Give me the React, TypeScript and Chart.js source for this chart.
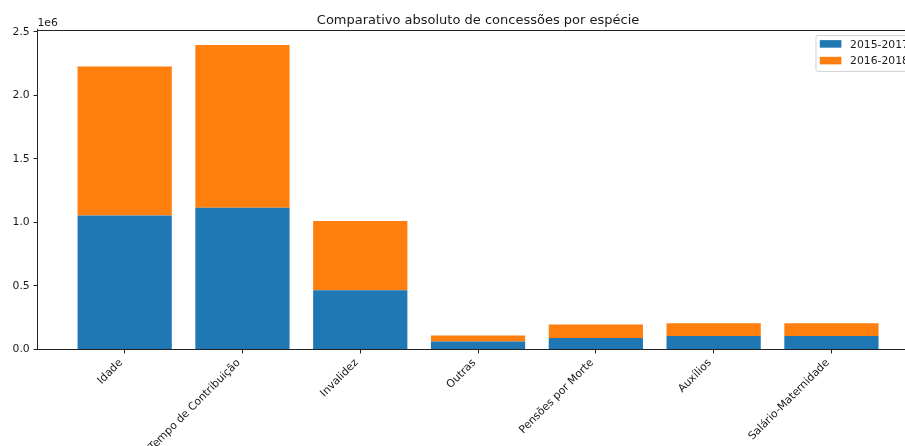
import { useEffect, useRef } from "react";
import { Chart, registerables } from "chart.js";

Chart.register(...registerables);

// Concessões por espécie, counts per period
const categories = [
  "Idade",
  "Tempo de Contribuição",
  "Invalidez",
  "Outras",
  "Pensões por Morte",
  "Auxílios",
  "Salário-Maternidade",
];
const seriesLabels = ["2015-2017", "2016-2018"];
const values2015to2017 = [1055000, 1115000, 466000, 63000, 91000, 107000, 107000];
const values2016to2018 = [1172000, 1281000, 544000, 47000, 105000, 99000, 99000];
const yTickValues = [0, 0.5, 1.0, 1.5, 2.0, 2.5]; // in units of 1e6
const chartTitle = "Comparativo absoluto de concessões por espécie";
const offsetLabel = "1e6";

const seriesColors = ["#1f77b4", "#ff7f0e"];
const FONT = '"DejaVu Sans", sans-serif';
const TEXT = "#1a1a1a";
const SPINE = "#222222";
const FS = 10.8;
const TICK_LEN = 4;
const TICK_PAD = 3.8;

const W = 930;
const H = 446;
const AREA_LEFT = 37.5;
const AREA_RIGHT = 918.6;
const AREA_TOP = 29.7;
const AREA_BOTTOM = 349.5;

const BAR_WIDTH = 0.8;
const totals = categories.map((_, i) => values2015to2017[i] + values2016to2018[i]);
const yMax = Math.max(...totals) * 1.05;
const xSpan = categories.length - 1 + BAR_WIDTH;
const xMin = -BAR_WIDTH / 2 - xSpan * 0.05;
const xMax = categories.length - 1 + BAR_WIDTH / 2 + xSpan * 0.05;

const decorPlugin = {
  id: "decor",
  afterDraw(chart: any) {
    const { ctx, chartArea: a } = chart;
    const xScale = chart.scales.x;
    ctx.save();

    // top spine
    ctx.strokeStyle = SPINE;
    ctx.lineWidth = 1;
    ctx.beginPath();
    const ty = Math.round(a.top) + 0.5;
    ctx.moveTo(a.left, ty);
    ctx.lineTo(a.right, ty);
    ctx.stroke();
    // right spine
    const rx = Math.round(a.right) - 0.5;
    ctx.beginPath();
    ctx.moveTo(rx, a.top);
    ctx.lineTo(rx, a.bottom);
    ctx.stroke();

    // category labels, rotated 45° with their box's top-right corner at the tick
    ctx.font = `${FS}px ${FONT}`;
    ctx.fillStyle = TEXT;
    ctx.textAlign = "right";
    ctx.textBaseline = "alphabetic";
    const asc = 0.76 * FS;
    const desc = 0.236 * FS;
    const r = Math.SQRT1_2;
    const yTop = a.bottom + TICK_LEN + TICK_PAD;
    xScale.ticks.forEach((t: any) => {
      const label = categories[Math.round(t.value)];
      if (!label) return;
      const px = xScale.getPixelForValue(t.value) - desc * r;
      const py = yTop + asc * r;
      ctx.save();
      ctx.translate(px, py);
      ctx.rotate(-Math.PI / 4);
      ctx.fillText(label, 0, 0);
      ctx.restore();
    });

    // title
    ctx.fillStyle = TEXT;
    ctx.font = `13px ${FONT}`;
    ctx.textAlign = "center";
    ctx.textBaseline = "alphabetic";
    ctx.fillText(chartTitle, (a.left + a.right) / 2, 23.5);

    // axis offset text
    ctx.font = `${FS}px ${FONT}`;
    ctx.textAlign = "left";
    ctx.fillText(offsetLabel, a.left, 26);

    // legend
    const pad = 0.4 * FS;
    const handleW = 2.0 * FS;
    const handleH = 0.7 * FS;
    const textPad = 0.8 * FS;
    const textW = Math.max(...seriesLabels.map((s) => ctx.measureText(s).width));
    const boxW = pad + handleW + textPad + textW + pad;
    const boxRight = a.right - 0.5 * FS;
    const boxLeft = boxRight - boxW;
    const boxTop = a.top + 0.5 * FS;
    const rowGap = 16.7;
    const firstRow = boxTop + 8.8;
    const boxBottom = firstRow + rowGap * (seriesLabels.length - 1) + 10.3;

    ctx.beginPath();
    ctx.roundRect(boxLeft + 0.5, boxTop + 0.5, boxW, boxBottom - boxTop, 2);
    ctx.fillStyle = "rgba(255,255,255,0.8)";
    ctx.fill();
    ctx.strokeStyle = "#d0d0d0";
    ctx.stroke();

    seriesLabels.forEach((label, i) => {
      const cy = firstRow + i * rowGap;
      ctx.fillStyle = seriesColors[i];
      ctx.fillRect(boxLeft + pad, cy - handleH / 2, handleW, handleH);
      ctx.fillStyle = TEXT;
      ctx.textAlign = "left";
      ctx.fillText(label, boxLeft + pad + handleW + textPad, cy + 0.36 * FS);
    });

    ctx.restore();
  },
};

export default function App() {
  const canvasRef = useRef<HTMLCanvasElement | null>(null);

  useEffect(() => {
    const canvas = canvasRef.current;
    if (!canvas) return;

    const chart = new Chart(canvas, {
      type: "bar",
      data: {
        datasets: [values2015to2017, values2016to2018].map((vals, s) => ({
          label: seriesLabels[s],
          data: vals.map((v, i) => ({ x: i, y: v })),
          backgroundColor: seriesColors[s],
          borderWidth: 0,
          barPercentage: BAR_WIDTH,
          categoryPercentage: 1.0,
        })),
      },
      options: {
        responsive: false,
        animation: false,
        devicePixelRatio: 1,
        layout: {
          padding: { top: AREA_TOP, right: W - AREA_RIGHT, left: 0, bottom: 0 },
        },
        plugins: {
          legend: { display: false },
          title: { display: false },
          tooltip: { enabled: false },
        },
        scales: {
          x: {
            type: "linear",
            stacked: true,
            offset: false,
            min: xMin,
            max: xMax,
            afterBuildTicks: (scale: any) => {
              scale.ticks = categories.map((_, i) => ({ value: i }));
            },
            afterFit: (scale: any) => {
              scale.height = H - AREA_BOTTOM;
            },
            ticks: {
              display: false,
              autoSkip: false,
            },
            grid: {
              display: true,
              offset: false,
              drawOnChartArea: false,
              drawTicks: true,
              tickLength: TICK_LEN,
              color: SPINE,
              lineWidth: 1,
            },
            border: { display: true, color: SPINE, width: 1 },
          },
          y: {
            type: "linear",
            stacked: true,
            min: 0,
            max: yMax,
            afterBuildTicks: (scale: any) => {
              scale.ticks = yTickValues.map((v) => ({ value: v * 1e6 }));
            },
            afterFit: (scale: any) => {
              scale.width = AREA_LEFT;
            },
            ticks: {
              padding: TICK_PAD,
              color: TEXT,
              font: { family: FONT, size: FS },
              callback: (v: any) => (Number(v) / 1e6).toFixed(1),
            },
            grid: {
              display: true,
              drawOnChartArea: false,
              drawTicks: true,
              tickLength: TICK_LEN,
              color: SPINE,
              lineWidth: 1,
            },
            border: { display: true, color: SPINE, width: 1 },
          },
        },
      },
      plugins: [decorPlugin],
    });

    return () => chart.destroy();
  }, []);

  return (
    <div
      style={{
        position: "fixed",
        left: 0,
        top: 0,
        width: 905,
        height: H,
        overflow: "hidden",
        background: "#ffffff",
      }}
    >
      <canvas ref={canvasRef} width={W} height={H} style={{ width: W, height: H, display: "block" }} />
    </div>
  );
}
